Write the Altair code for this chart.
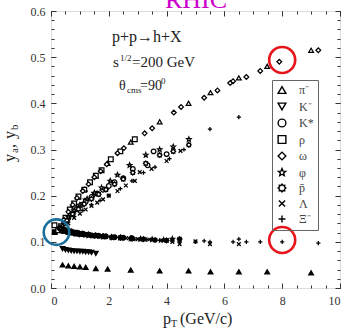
import math
import altair as alt
import pandas as pd

# ---------------- data ----------------
hadrons = ["π⁻", "K⁻", "K*", "ρ", "ω", "φ", "p̄", "Λ", "Ξ⁻"]

pim_a_pt = [0.38, 0.69, 0.93, 1.17, 1.55, 1.96, 2.76, 3.76, 4.76, 5.52, 6.5, 7.48, 9.0]
pim_a_y = [0.135, 0.172, 0.197, 0.214, 0.243, 0.27, 0.316, 0.36, 0.4, 0.423, 0.455, 0.48, 0.515]
pim_b_pt = [0.4, 0.6, 0.8, 1.0, 1.2, 1.55, 1.96, 2.76, 3.76, 4.76, 5.52, 6.5, 7.48, 9.0]
pim_b_y = [0.05, 0.048, 0.047, 0.046, 0.045, 0.042, 0.041, 0.039, 0.037, 0.037, 0.035, 0.035, 0.035, 0.033]

km_a_pt = [0.45, 0.7, 0.95, 1.2, 1.5]
km_a_y = [0.142, 0.16, 0.176, 0.188, 0.202]
km_b_pt = [0.4, 0.5, 0.6, 0.7, 0.8, 0.9, 1.0, 1.1, 1.2, 1.3, 1.4, 1.55]
km_b_y = [0.085, 0.083, 0.082, 0.081, 0.08, 0.08, 0.079, 0.079, 0.078, 0.078, 0.077, 0.075]

ks_a_pt = [0.3, 0.45, 0.6, 0.75, 0.9, 1.05, 1.2, 1.4, 1.6, 1.8, 2.0, 2.2, 2.5, 2.83, 3.34, 3.55, 4.0]
ks_a_y = [0.127, 0.14, 0.152, 0.162, 0.171, 0.18, 0.187, 0.197, 0.205, 0.213, 0.221, 0.229, 0.238, 0.258, 0.266, 0.296, 0.29]
ks_b_pt = [0.35, 0.55, 0.75, 0.95, 1.15, 1.4, 1.65, 1.9, 2.2, 2.5, 2.8]
ks_b_y = [0.125, 0.122, 0.12, 0.118, 0.116, 0.114, 0.113, 0.112, 0.11, 0.109, 0.108]

rho_a_pt = [0.12, 0.25, 0.35, 0.5, 0.65, 0.8, 0.95, 1.15, 1.35, 1.55, 1.75, 2.07, 2.4, 2.9]
rho_a_y = [0.136, 0.125, 0.134, 0.152, 0.17, 0.183, 0.198, 0.213, 0.229, 0.243, 0.255, 0.279, 0.296, 0.322]
rho_b_pt = [0.13, 0.3, 0.45, 0.6, 0.75, 0.9, 1.05]
rho_b_y = [0.121, 0.126, 0.124, 0.122, 0.12, 0.118, 0.117]

om_a_pt = [0.3, 0.45, 0.6, 0.75, 0.9, 1.1, 1.3, 1.5, 1.72, 1.93, 2.3, 2.52, 3.24, 3.5,
           4.25, 4.5, 5.3, 5.76, 6.2, 6.3, 6.76, 7.24, 7.9, 9.25]
om_a_y = [0.128, 0.148, 0.165, 0.18, 0.195, 0.21, 0.225, 0.24, 0.253, 0.268, 0.292, 0.303, 0.335, 0.346,
          0.38, 0.392, 0.412, 0.428, 0.444, 0.448, 0.457, 0.47, 0.49, 0.515]
om_b_pt = [0.4, 0.6, 0.8, 1.0, 1.25, 1.5, 1.8, 2.1, 2.4, 2.76]
om_b_y = [0.124, 0.121, 0.119, 0.117, 0.115, 0.113, 0.112, 0.11, 0.109, 0.107]

phi_a_pt = [0.4, 0.6, 0.8, 1.0, 1.25, 1.5, 1.75, 2.05, 2.3, 2.72, 3.28, 3.76, 4.23, 4.77]
phi_a_y = [0.135, 0.154, 0.168, 0.18, 0.193, 0.206, 0.217, 0.232, 0.245, 0.266, 0.288, 0.3, 0.306, 0.322]
phi_b_pt = [0.45, 0.65, 0.85, 1.05, 1.3, 1.55, 1.8, 2.1, 2.4, 2.76, 3.1, 3.5, 3.9, 4.2]
phi_b_y = [0.124, 0.121, 0.118, 0.116, 0.114, 0.113, 0.111, 0.11, 0.109, 0.107, 0.106, 0.105, 0.104, 0.106]

pb_a_pt = [0.35, 0.55, 0.75, 0.95, 1.15, 1.4, 1.65, 1.9, 2.2, 2.5, 2.83, 3.28, 3.76, 4.23, 4.77]
pb_a_y = [0.128, 0.146, 0.16, 0.171, 0.182, 0.193, 0.203, 0.213, 0.225, 0.236, 0.25, 0.27, 0.288, 0.296, 0.31]
pb_b_pt = [0.3, 0.5, 0.7, 0.9, 1.1, 1.3, 1.55, 1.8, 2.1, 2.4, 2.8, 3.2, 3.6, 4.0, 4.45]
pb_b_y = [0.13, 0.126, 0.123, 0.12, 0.118, 0.116, 0.114, 0.112, 0.11, 0.109, 0.107, 0.106, 0.104, 0.103, 0.106]

lam_a_pt = [0.4, 0.6, 0.8, 1.0, 1.2, 1.4, 1.6, 1.8, 2.0, 2.3, 2.59, 2.9, 3.07, 3.48, 4.0, 4.48]
lam_a_y = [0.128, 0.14, 0.152, 0.161, 0.17, 0.178, 0.185, 0.192, 0.2, 0.21, 0.222, 0.232, 0.251, 0.258, 0.275, 0.297]
lam_b_pt = [0.4, 0.6, 0.8, 1.0, 1.2, 1.4, 1.6, 1.9, 2.2, 2.6, 3.0, 3.4, 3.8, 4.2, 4.45, 5.0, 5.5, 6.5]
lam_b_y = [0.128, 0.124, 0.121, 0.119, 0.117, 0.115, 0.113, 0.111, 0.11, 0.108, 0.106, 0.105, 0.103, 0.1, 0.095, 0.101, 0.095, 0.095]

xi_a_pt = [0.5, 0.8, 1.1, 1.4, 1.7, 2.0, 2.4, 2.8, 3.2, 3.6, 4.1, 4.6, 5.5, 6.5]
xi_a_y = [0.14, 0.155, 0.168, 0.18, 0.19, 0.2, 0.215, 0.232, 0.25, 0.262, 0.28, 0.3, 0.344, 0.37]
xi_b_pt = [0.35, 0.5, 0.7, 0.9, 1.1, 1.3, 1.5, 1.8, 2.1, 2.5, 2.9, 3.3, 3.76, 4.2, 4.45, 5.0,
           5.3, 5.5, 6.3, 6.5, 6.76, 7.24, 8.0, 9.25]
xi_b_y = [0.127, 0.124, 0.121, 0.119, 0.117, 0.115, 0.113, 0.111, 0.11, 0.108, 0.106, 0.105, 0.103, 0.106, 0.1, 0.1,
          0.102, 0.1, 0.1, 0.106, 0.1, 0.1, 0.1, 0.097]

# highlighted points (circled in the figure)
red_pt = [8.0, 8.0]
red_y = [0.494, 0.104]
blue_pt = [0.19]
blue_y = [0.121]

x_major = [0, 2, 4, 6, 8, 10]
x_minor = [i * 0.5 for i in range(21)]
y_major = [0.0, 0.1, 0.2, 0.3, 0.4, 0.5, 0.6]
y_minor = [round(i * 0.02, 2) for i in range(31)]

# ---------------- build table ----------------
series = [
    ("π⁻", pim_a_pt, pim_a_y, pim_b_pt, pim_b_y),
    ("K⁻", km_a_pt, km_a_y, km_b_pt, km_b_y),
    ("K*", ks_a_pt, ks_a_y, ks_b_pt, ks_b_y),
    ("ρ", rho_a_pt, rho_a_y, rho_b_pt, rho_b_y),
    ("ω", om_a_pt, om_a_y, om_b_pt, om_b_y),
    ("φ", phi_a_pt, phi_a_y, phi_b_pt, phi_b_y),
    ("p̄", pb_a_pt, pb_a_y, pb_b_pt, pb_b_y),
    ("Λ", lam_a_pt, lam_a_y, lam_b_pt, lam_b_y),
    ("Ξ⁻", xi_a_pt, xi_a_y, xi_b_pt, xi_b_y),
]
rows = []
for name, apt, ay, bpt, by in series:
    for p, v in zip(bpt, by):
        rows.append({"pT": p, "y": v, "hadron": name, "branch": "b"})
    for p, v in zip(apt, ay):
        rows.append({"pT": p, "y": v, "hadron": name, "branch": "a"})
df = pd.DataFrame(rows)


def star_path(n, r_in, rot=-90.0):
    pts = []
    for i in range(2 * n):
        r = 1.0 if i % 2 == 0 else r_in
        a = math.radians(rot + i * 180.0 / n)
        pts.append(f"{r * math.cos(a):.3f},{r * math.sin(a):.3f}")
    return "M" + "L".join(pts) + "Z"


shapes = [
    "triangle-up",
    "triangle-down",
    "circle",
    "square",
    "diamond",
    star_path(5, 0.45),
    star_path(8, 0.72, rot=0),
    "M-0.8,-0.8L0.8,0.8M-0.8,0.8L0.8,-0.8",
    "M-0.9,0L0.9,0M0,-0.9L0,0.9",
]

SERIF = "Liberation Serif"
W, H = 289, 277
xs = alt.Scale(domain=[0, 10], nice=False, zero=False)
ys = alt.Scale(domain=[0, 0.6], nice=False, zero=False)


def ax(orient, values, size, labels=False, fmt=None, pad=4):
    kw = dict(orient=orient, values=values, tickSize=size, offset=-size, domain=False,
              grid=False, title=None, labels=labels, tickColor="#333", tickWidth=1)
    if labels:
        kw.update(labelFont=SERIF, labelFontSize=12, labelColor="#333", labelPadding=pad)
        if fmt:
            kw["format"] = fmt
    return alt.Axis(**kw)


base = alt.Chart(df)

points = base.mark_point(size=22, strokeWidth=1.25, opacity=1).encode(
    x=alt.X("pT:Q", scale=xs, axis=ax("bottom", x_major, 5, True, "d", 7)),
    y=alt.Y("y:Q", scale=ys, axis=ax("left", y_major, 5, True, ".1f", 6)),
    shape=alt.Shape(
        "hadron:N",
        scale=alt.Scale(domain=hadrons, range=shapes),
        legend=alt.Legend(
            orient="none", legendX=221, legendY=69, title=None, direction="vertical",
            strokeColor="#666", padding=4, rowPadding=2.5,
            symbolSize=60, symbolStrokeWidth=1.4, symbolFillColor="white",
            symbolStrokeColor="black", labelFont=SERIF, labelFontSize=12,
            labelOffset=11, labelColor="#444",
        ),
    ),
    fill=alt.Fill("branch:N", scale=alt.Scale(domain=["a", "b"], range=["white", "black"]), legend=None),
    stroke=alt.value("black"),
)

ticks_minor_lb = base.mark_point(opacity=0).encode(
    x=alt.X("pT:Q", scale=xs, axis=ax("bottom", x_minor, 3)),
    y=alt.Y("y:Q", scale=ys, axis=ax("left", y_minor, 3)),
)
ticks_major_tr = base.mark_point(opacity=0).encode(
    x=alt.X("pT:Q", scale=xs, axis=ax("top", x_major, 5)),
    y=alt.Y("y:Q", scale=ys, axis=ax("right", y_major, 5)),
)
ticks_minor_tr = base.mark_point(opacity=0).encode(
    x=alt.X("pT:Q", scale=xs, axis=ax("top", x_minor, 3)),
    y=alt.Y("y:Q", scale=ys, axis=ax("right", y_minor, 3)),
)

red = alt.Chart(pd.DataFrame({"pT": red_pt, "y": red_y})).mark_point(
    shape="circle", size=676, filled=False, color="#e8141c", strokeWidth=2.6, opacity=1
).encode(x=alt.X("pT:Q", scale=xs, axis=None), y=alt.Y("y:Q", scale=ys, axis=None))
blue = alt.Chart(pd.DataFrame({"pT": blue_pt, "y": blue_y})).mark_point(
    shape="circle", size=650, filled=False, color="#1a6e9c", strokeWidth=2.6, opacity=1
).encode(x=alt.X("pT:Q", scale=xs, axis=None), y=alt.Y("y:Q", scale=ys, axis=None))

one = pd.DataFrame({"k": [0]})


def txt(text, x, y, size, color="#222", angle=0, align="left"):
    kw = dict(text=text, font=SERIF, fontSize=size, color=color, align=align,
              baseline="alphabetic")
    if angle:
        kw["angle"] = angle
    return alt.Chart(one).mark_text(**kw).encode(x=alt.value(x), y=alt.value(y))


texts = [
    txt("RHIC", 145, -3, 26, color="#cc00cc", align="center"),
    txt("p+p→h+X", 61, 31, 16),
    txt("s", 62, 56, 15),
    txt("1/2", 69, 50, 9),
    txt("=200 GeV", 81, 56, 15),
    txt("θ", 68, 79, 14),
    txt("cms", 76, 82, 9),
    txt("=90", 89, 79, 14),
    txt("0", 110, 73, 9),
    # x axis title
    txt("p", 112, 313, 16),
    txt("T", 120, 316, 10),
    txt("(GeV/c)", 129, 313, 16),
    # y axis title
    txt("y", -36, 151, 16, angle=270),
    txt("a", -33, 142, 11, angle=270),
    txt(",", -36, 137, 16, angle=270),
    txt("y", -36, 128, 16, angle=270),
    txt("b", -33, 119, 11, angle=270),
]

chart = alt.layer(
    ticks_minor_lb, ticks_major_tr, ticks_minor_tr, points, red, blue, *texts
).resolve_axis(x="independent", y="independent").properties(
    width=W, height=H,
    autosize=alt.AutoSizeParams(type="none"),
    padding={"left": 51, "top": 11, "right": 7, "bottom": 40},
).configure_view(stroke="#333", strokeWidth=1.2).configure(background="white")

chart.save("out.html", embed_options={"renderer": "svg", "actions": False})
